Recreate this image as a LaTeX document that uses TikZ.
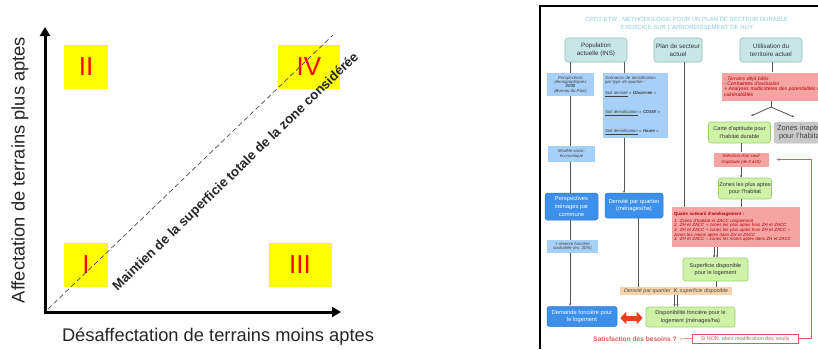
\documentclass[tikz,border=0pt]{standalone}
\usepackage{fontspec}
\setmainfont{Liberation Sans}
\usetikzlibrary{arrows.meta}
\definecolor{qyellow}{HTML}{FFFF00}
\definecolor{qred}{HTML}{FF0000}
\definecolor{tealF}{HTML}{C8E6E6}
\definecolor{tealB}{HTML}{8FBABA}
\definecolor{titleC}{HTML}{8CCFD6}
\definecolor{lblueF}{HTML}{A6D0F7}
\definecolor{dblueF}{HTML}{3C8FEA}
\definecolor{dblueB}{HTML}{2F78CC}
\definecolor{greenF}{HTML}{CDF2A8}
\definecolor{greenB}{HTML}{9BD36B}
\definecolor{pinkF}{HTML}{F5A3A3}
\definecolor{darkred}{HTML}{B00000}
\definecolor{grayF}{HTML}{C9C9C9}
\definecolor{orangeF}{HTML}{F8D2A8}
\definecolor{fbred}{HTML}{E05A5A}
\definecolor{fatred}{HTML}{E8401C}
\definecolor{linegray}{HTML}{555555}
\tikzset{
  quad/.style={fill=qyellow, draw=none, inner sep=0pt},
  numeral/.style={text=qred, font=\fontsize{26}{26}\selectfont},
  axis/.style={line width=3pt, -{Triangle[length=9pt,width=10pt]}},
  biglabel/.style={font=\fontsize{18.3}{19}\selectfont, text=black!85},
  tealbox/.style={fill=tealF, draw=tealB, line width=0.6pt, rounded corners=3pt, align=center, inner sep=0pt, font=\fontsize{6.3}{8.5}\selectfont, text=black!80},
  lbluebox/.style={fill=lblueF, draw=none, align=center, inner sep=0pt, font=\fontsize{4.3}{4.3}\selectfont\itshape, text=black!75},
  dbluebox/.style={fill=dblueF, draw=dblueB, line width=0.5pt, rounded corners=2.5pt, align=center, inner sep=0pt, font=\fontsize{5.8}{7.6}\selectfont, text=white},
  greenbox/.style={fill=greenF, draw=greenB, line width=0.6pt, rounded corners=2.5pt, align=center, inner sep=0pt, font=\fontsize{5.6}{7.2}\selectfont, text=black!80},
  pinkbox/.style={fill=pinkF, draw=none, align=left, inner sep=0pt, font=\fontsize{5}{5.3}\selectfont\itshape, text=darkred},
  conn/.style={draw=linegray, line width=0.6pt},
  sarrow/.style={conn, -{Stealth[length=2.5pt,width=2pt]}},
}
\begin{document}
\begin{tikzpicture}[x=1pt,y=-1pt]
\useasboundingbox (0,0) rectangle (818,349);
% ---------------- left diagram
\node[quad, minimum width=44pt, minimum height=44pt] (q2) at (86,67) {};
\node[quad, minimum width=62pt, minimum height=44pt] (q4) at (309,67) {};
\node[quad, minimum width=44pt, minimum height=44pt] (q1) at (86,265) {};
\node[quad, minimum width=63pt, minimum height=44pt] (q3) at (300,265) {};
\node[numeral] at (q2) {II};
\node[numeral] at (q4) {IV};
\node[numeral] at (q1) {I};
\node[numeral] at (q3) {III};
\coordinate (orig) at (45,312);
\coordinate (dstart) at (48,309);
\coordinate (dend) at (333,35);
\draw[black!70, line width=0.7pt, dash pattern=on 5pt off 3pt] (dstart) -- (dend);
\coordinate (ytop) at (45,27);
\coordinate (xend) at (341,312);
\draw[axis] ([yshift=-1.5pt]orig) -- (ytop);
\draw[axis] ([xshift=-1.5pt]orig) -- (xend);
\node[biglabel, rotate=90] (ylab) at (20,170) {Affectation de terrains plus aptes};
\node[biglabel] (xlab) at (218,337) {Désaffectation de terrains moins aptes};
\node[rotate=44, font=\bfseries\fontsize{13.3}{14}\selectfont, text=black!85] (diag) at (236,172) {Maintien de la superficie totale de la zone considérée};
% ---------------- right flowchart
\begin{scope}
\clip (538,0) rectangle (818,349);
\fill[white] (540,6) rectangle (818,349);
\draw[black, line width=2.5pt] (540,349) -- (540,6) -- (820,6);
\node[text=titleC, align=center, font=\fontsize{6}{8}\selectfont] (title) at (687,23) {CPDT-ETW : METHODOLOGIE POUR UN PLAN DE SECTEUR DURABLE\\EXERCICE SUR L'ARRONDISSEMENT DE HUY};
% top boxes
\node[tealbox, minimum width=62pt, minimum height=24pt] (pop) at (596,50) {Population\\actuelle (INS)};
\node[tealbox, minimum width=48pt, minimum height=24pt] (plan) at (678,50) {Plan de secteur\\actuel};
\node[tealbox, minimum width=62pt, minimum height=24pt] (util) at (771,50) {Utilisation du\\territoire actuel};
% connector coordinates
\coordinate (popA) at (570,62);
\coordinate (popB) at (624,62);
\coordinate (planA) at (684,62);
\coordinate (utilA) at (772,62);
% left column lines (behind boxes)
\coordinate (demTop) at (570,306);
\draw[sarrow] (popA) -- (demTop);
\coordinate (densTop) at (624,193);
\draw[sarrow] (popB) -- (densTop);
\coordinate (quatreTop) at (684,207);
\draw[conn] (planA) -- (quatreTop);
\coordinate (densBot) at (638,218);
\coordinate (stripA) at (638,287);
\draw[conn] (densBot) -- (stripA);
\coordinate (supBot) at (716,281);
\coordinate (stripB) at (716,287);
\draw[conn] (supBot) -- (stripB);
% blue column
\node[lbluebox, minimum width=47pt, minimum height=23pt] (pdemo) at (570.5,84.5) {Perspectives\\démographiques\\\textbf{2030}\\(Bureau du Plan)};
\node[lbluebox, minimum width=65pt, minimum height=65pt, text width=61pt, align=left] (scen) at (635.5,105.5) {Scénarios de densification\\par type de quartier :\\[7pt]\underline{Soit densité} « \textbf{Observée} »\\[12.5pt]\underline{Soit densification} « \textbf{CDSW} »\\[13pt]\underline{Soit densification} « \textbf{Haute} »};
\node[lbluebox, minimum width=47pt, minimum height=16pt] (modele) at (571.5,154) {Modèle socio-\\économique};
\node[dbluebox, minimum width=53pt, minimum height=27pt] (pmen) at (571.5,206.5) {Perspectives\\ménages par\\commune};
\node[dbluebox, minimum width=58pt, minimum height=25pt] (dens) at (634,205.5) {Densité par quartier\\(ménages/ha)};
\node[lbluebox, minimum width=51pt, minimum height=13pt] (reserve) at (572.5,246.5) {+ réserve foncière\\souhaitée (ex. 20\%)};
\node[dbluebox, minimum width=70pt, minimum height=20pt] (demande) at (582,316.5) {Demande foncière pour\\le logement};
% right column
\node[pinkbox, minimum width=110pt, minimum height=28pt, text width=106pt] (redtop) at (777,86.5) {- Terrains déjà bâtis\\- Contraintes d'exclusion\\+ Analyses multicritères des potentialités et\\vulnérabilités};
\draw[conn] (utilA) -- (redtop.north -| utilA);
\coordinate (split) at (771,107);
\coordinate (splitL) at (751,116);
\coordinate (splitR) at (794,117);
\draw[conn] (redtop.south -| split) -- (split);
\draw[sarrow, line width=0.8pt] (split) -- (splitL);
\draw[sarrow, line width=0.8pt] (split) -- (splitR);
\node[greenbox, minimum width=62pt, minimum height=21pt] (carte) at (739.5,132.5) {Carte d'aptitude pour\\l'habitat durable};
\node[fill=grayF, draw=black!25, line width=0.5pt, rounded corners=2.5pt, align=left, inner xsep=3pt, inner ysep=0pt, text width=58pt, minimum height=21pt, font=\fontsize{7.4}{8.4}\selectfont, text=black!75] (inapt) at (806,132.5) {Zones inaptes\\\hspace*{2pt}pour l'habitat};
\node[pinkbox, align=center, minimum width=55pt, minimum height=14pt, font=\fontsize{4.3}{5.4}\selectfont\itshape] (selec) at (741,159.5) {Sélection d'un seuil\\d'aptitude (de 0 à10)};
\node[greenbox, minimum width=53pt, minimum height=21pt] (zones) at (745,188.5) {Zones les plus aptes\\pour l'habitat};
\draw[conn] (carte.south -| selec.north) -- (selec.north);
\draw[sarrow] (selec.south) -- (zones.north -| selec.south);
\node[pinkbox, minimum width=128pt, minimum height=40pt, text width=124pt, font=\fontsize{4.4}{4.7}\selectfont\itshape] (quatre) at (736,227) {\textbf{\upshape Quatre scénarii d'aménagement :}\\[1.8pt]1. Zones d'habitat et ZACC uniquement\\2. ZH et ZACC + zones les plus aptes hors ZH et ZACC\\3. ZH et ZACC + zones les plus aptes hors ZH et ZACC –\\zones les moins aptes dans ZH et ZACC\\4. ZH et ZACC – zones les moins aptes dans ZH et ZACC};
\draw[conn] (zones.south -| selec.south) -- (quatre.north -| selec.south);
\node[greenbox, minimum width=65pt, minimum height=23pt] (superf) at (715.5,269.5) {Superficie disponible\\pour le logement};
\draw[sarrow] ([xshift=-1.5pt]quatre.south -| superf.north) -- ([xshift=-1.5pt]superf.north);
\draw[sarrow] ([xshift=1.5pt]quatre.south -| superf.north) -- ([xshift=1.5pt]superf.north);
\node[fill=orangeF, draw=none, inner sep=0pt, minimum width=112pt, minimum height=8pt, font=\fontsize{5.3}{6}\selectfont\itshape, text=black!70] (strip) at (676,291) {Densité par quartier \ \textbf{\upshape X} \ superficie disponible};
\node[greenbox, minimum width=89pt, minimum height=20pt] (dispo) at (690.5,317) {Disponibilité foncière pour le\\logement (ménages/ha)};
\draw[sarrow] ([xshift=-1.5pt]strip.south) -- ([xshift=-1.5pt]strip.south |- dispo.north);
\draw[sarrow] ([xshift=1.5pt]strip.south) -- ([xshift=1.5pt]strip.south |- dispo.north);
\draw[fatred, line width=5pt, {Triangle[length=6pt,width=12pt]}-{Triangle[length=6pt,width=12pt]}] ([xshift=3pt]demande.east |- 0,318) -- ([xshift=-3pt]dispo.west |- 0,318);
\node[text=fbred, font=\bfseries\fontsize{6.6}{7}\selectfont] (satisf) at (635,339) {Satisfaction des besoins ?};
\node[fill=white, draw=fbred, line width=0.6pt, inner sep=0pt, minimum width=106pt, minimum height=9pt, text=fbred, font=\fontsize{5.4}{6}\selectfont] (sinon) at (745,338.5) {Si NON, alors modification des seuils};
\draw[fbred, line width=0.6pt] (satisf.east) -- (sinon.west);
\coordinate (fbA) at (811,338.5);
\coordinate (fbB) at (811,159.5);
\draw[fbred, line width=0.7pt, -{Stealth[length=3pt,width=2.5pt]}] (sinon.east) -- (fbA) -- (fbB) -- ([xshift=8pt]selec.east);
\end{scope}
\end{tikzpicture}
\end{document}
